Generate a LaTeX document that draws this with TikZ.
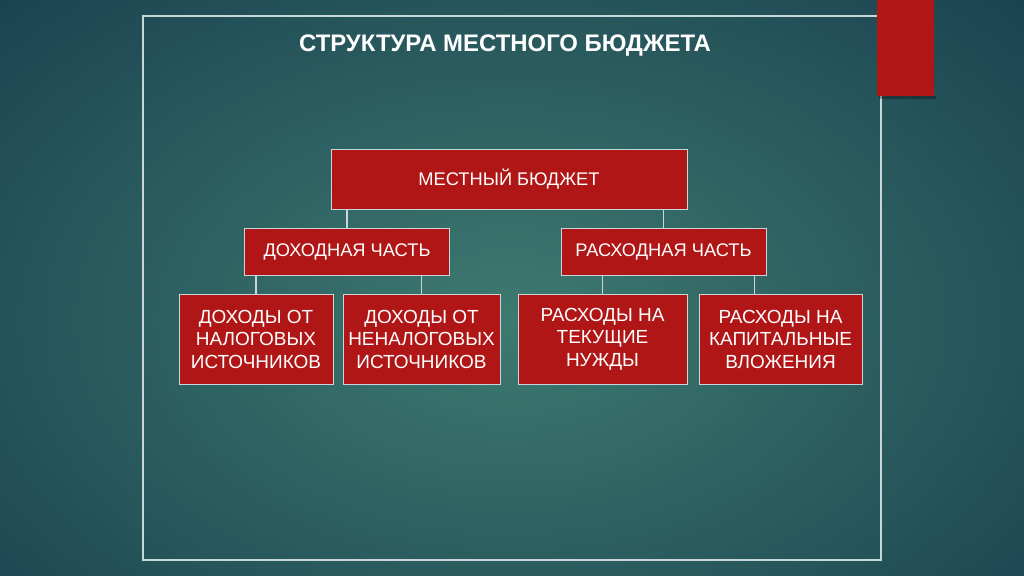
\documentclass[tikz,border=0pt]{standalone}
\usepackage{fontspec}
\setmainfont{Liberation Sans}
\definecolor{bgouter}{HTML}{13384A}
\definecolor{bginner}{HTML}{3E7A70}
\definecolor{boxred}{HTML}{B01616}
\definecolor{framegray}{HTML}{C8D5D9}

\begin{document}
\begin{tikzpicture}[
        x=0.025cm, y=-0.025cm,
        every node/.style={draw=framegray, line width=0.6pt, fill=boxred, text=white, align=center, inner sep=0pt},
        title/.style={draw=none, fill=none, font=\fontsize{17}{20}\selectfont\bfseries},
        boss/.style={minimum width=356*0.025cm, minimum height=60*0.025cm, font=\fontsize{13}{16}\selectfont},
        part/.style={minimum width=205*0.025cm, minimum height=47*0.025cm, font=\fontsize{13}{16}\selectfont},
        leaf/.style={minimum height=90*0.025cm, font=\fontsize{13.5}{16}\selectfont},
        link/.style={draw=framegray, line width=0.8pt}
    ]
    % background
    \useasboundingbox (0,0) rectangle (1024,576);
    \fill[bgouter] (0,0) rectangle (1024,576);
    \begin{scope}
        \clip (0,0) rectangle (1024,576);
        \shade[inner color=bginner, outer color=bgouter] (510,320) ellipse [x radius=860, y radius=560];
    \end{scope}
    \draw[framegray, line width=1.2pt] (143,16) rectangle (881,560);
    \fill[black, opacity=0.3] (879,96) rectangle (936,99);
    \fill[boxred] (877,0) rectangle (934,96);

    \node[title] (title) at (505,46) {СТРУКТУРА МЕСТНОГО БЮДЖЕТА};

    \node[boss] (root) at (509,179) {МЕСТНЫЙ БЮДЖЕТ};

    \node[part] (dohod) at (347,251.5) {ДОХОДНАЯ ЧАСТЬ};
    \node[part] (rashod) at (663.5,251.5) {РАСХОДНАЯ ЧАСТЬ};

    \node[leaf, minimum width=154*0.025cm] (nalog) at (256,339) {ДОХОДЫ ОТ\\НАЛОГОВЫХ\\ИСТОЧНИКОВ};
    \node[leaf, minimum width=157*0.025cm] (nenalog) at (421.5,339) {ДОХОДЫ ОТ\\НЕНАЛОГОВЫХ\\ИСТОЧНИКОВ};
    \node[leaf, minimum width=169*0.025cm] (tekush) at (602.5,339) {РАСХОДЫ НА\\ТЕКУЩИЕ\\НУЖДЫ};
    \node[leaf, minimum width=163*0.025cm] (kapital) at (780.5,339) {РАСХОДЫ НА\\КАПИТАЛЬНЫЕ\\ВЛОЖЕНИЯ};

    % connectors
    \draw[link] (root.south -| dohod.north) -- (dohod.north);
    \draw[link] (root.south -| rashod.north) -- (rashod.north);
    \draw[link] (dohod.south -| nalog.north) -- (nalog.north);
    \draw[link] (dohod.south -| nenalog.north) -- (nenalog.north);
    \draw[link] (rashod.south -| tekush.north) -- (tekush.north);
    \coordinate (kapin) at ([xshift=-26*0.025cm]kapital.north);
    \draw[link] (rashod.south -| kapin) -- (kapin);
\end{tikzpicture}
\end{document}
